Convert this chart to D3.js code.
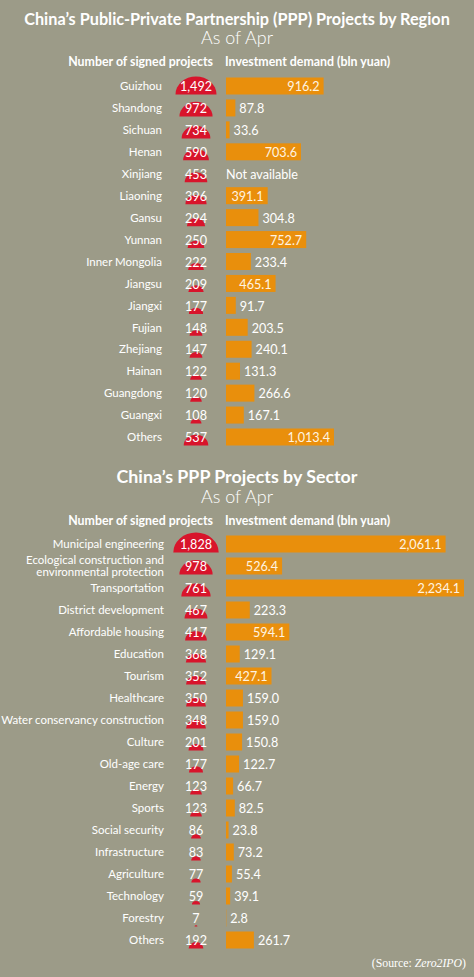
<!DOCTYPE html>
<html><head><meta charset="utf-8">
<script src="https://cdn.jsdelivr.net/npm/d3@7"></script>
<style>
html,body{margin:0;padding:0;background:#9c9b88;}
svg{display:block;}
</style></head>
<body>
<script>
const regions = ["Guizhou","Shandong","Sichuan","Henan","Xinjiang","Liaoning","Gansu","Yunnan","Inner Mongolia","Jiangsu","Jiangxi","Fujian","Zhejiang","Hainan","Guangdong","Guangxi","Others"];
const regionProjects = [1492,972,734,590,453,396,294,250,222,209,177,148,147,122,120,108,537];
const regionInvest = [916.2,87.8,33.6,703.6,null,391.1,304.8,752.7,233.4,465.1,91.7,203.5,240.1,131.3,266.6,167.1,1013.4];

const sectors = ["Municipal engineering","Ecological construction and\nenvironmental protection","Transportation","District development","Affordable housing","Education","Tourism","Healthcare","Water conservancy construction","Culture","Old-age care","Energy","Sports","Social security","Infrastructure","Agriculture","Technology","Forestry","Others"];
const sectorProjects = [1828,978,761,467,417,368,352,350,348,201,177,123,123,86,83,77,59,7,192];
const sectorInvest = [2061.1,526.4,2234.1,223.3,594.1,129.1,427.1,159.0,159.0,150.8,122.7,66.7,82.5,23.8,73.2,55.4,39.1,2.8,261.7];

const titles = ["China\u2019s Public-Private Partnership (PPP) Projects by Region","China\u2019s PPP Projects by Sector"];
const subtitle = "As of Apr";
const headLeft = "Number of signed projects";
const headRight = "Investment demand (bln yuan)";
const notAvail = "Not available";

const W = 474, H = 977;
const BG = "#9c9b88", ORANGE = "#e98f0c", RED = "#d8142b";
const SANS = "Lato, 'Open Sans', sans-serif";
const SERIF = "'Liberation Serif', 'DejaVu Serif', serif";
const svg = d3.select("body").append("svg").attr("width", W).attr("height", H)
  .style("font-family", SANS);
svg.append("rect").attr("width", W).attr("height", H).attr("fill", BG);

// font size that makes a sample string reach a target width
function fit(sample, target, weight, family) {
  const t = svg.append("text").attr("font-size", 20).attr("font-weight", weight || 400)
    .style("font-family", family || SANS).text(sample);
  const w = t.node().getComputedTextLength();
  t.remove();
  return 20 * target / w;
}
const fsTitle1 = fit(titles[0], 426, 700);
const fsTitle2 = fit(titles[1], 241, 700);
const fsSub = fit(subtitle, 72, 300);
const fsHead = fit(headLeft, 145, 700);
const fsLabel = fit("Water conservancy construction", 163, 400);
const fsNum = fit(notAvail, 72, 400);
const fsSrc = fit("(Source: Zero2IPO)", 94, 400, SERIF);

const maxInv = d3.max(regionInvest.concat(sectorInvest));
const x = d3.scaleLinear().domain([0, maxInv]).range([226, 464]);
const maxProj = d3.max(regionProjects.concat(sectorProjects));
const r = d3.scaleSqrt().domain([0, maxProj]).range([0, 22.7]);
const fmt = d3.format(",.1f");
const fmtInt = d3.format(",");

function panel(cfg) {
  const g = svg.append("g");
  g.append("text").attr("x", 237).attr("y", cfg.titleY).attr("text-anchor","middle")
    .attr("fill","#fff").attr("font-weight",700).attr("font-size",cfg.fsTitle).text(cfg.title);
  g.append("text").attr("x", 237).attr("y", cfg.subY).attr("text-anchor","middle")
    .attr("fill","#fff").attr("font-weight",300).attr("font-size",fsSub).text(subtitle);
  g.append("text").attr("x", 213).attr("y", cfg.headY).attr("text-anchor","end")
    .attr("fill","#fff").attr("font-weight",700).attr("font-size",fsHead).text(headLeft);
  g.append("text").attr("x", 225).attr("y", cfg.headY).attr("text-anchor","start")
    .attr("fill","#fff").attr("font-weight",700).attr("font-size",fsHead).text(headRight);

  const y = d3.scalePoint().domain(cfg.cats).range(cfg.yRange);
  const data = cfg.cats.map((c,i)=>({c, p: cfg.proj[i], v: cfg.inv[i]}));
  const bh = 17;
  const row = g.selectAll("g.row").data(data).join("g").attr("class","row")
    .attr("transform", d=>`translate(0,${y(d.c)})`);

  row.each(function(d){
    const lines = d.c.split("\n");
    const t = d3.select(this).append("text").attr("text-anchor","end").attr("fill","#fff")
      .attr("font-size",fsLabel);
    lines.forEach((ln,k)=>{
      t.append("tspan").attr("x",cfg.labelX)
        .attr("y", (k - (lines.length-1)/2)*12.5 + 4.2).text(ln);
    });
  });

  row.append("path").attr("fill", RED).attr("d", d=>{
    const rx = r(d.p), ry = rx*0.88, cx = 196, by = bh/2;
    return `M${cx-rx},${by} A${rx},${ry} 0 0 1 ${cx+rx},${by} Z`;
  });
  row.append("text").attr("x",196).attr("y",5.2).attr("text-anchor","middle").attr("fill","#fff")
    .attr("font-size",fsNum).text(d=>fmtInt(d.p));

  row.filter(d=>d.v!=null).append("rect").attr("x", x(0)).attr("y",-bh/2)
    .attr("width", d=>x(d.v)-x(0)).attr("height", bh).attr("fill", ORANGE);
  row.append("text")
    .attr("x", d=> d.v==null ? x(0) : (d.v>350 ? x(d.v)-4 : x(d.v)+4))
    .attr("y",5.2)
    .attr("text-anchor", d=> d.v!=null && d.v>350 ? "end":"start")
    .attr("fill", d=> d.v!=null && d.v>350 ? "#fff4e2":"#fff")
    .attr("font-size",fsNum)
    .text(d=> d.v==null ? notAvail : fmt(d.v));
}

panel({title:titles[0], fsTitle:fsTitle1, titleY:25, subY:44, headY:66, cats:regions, proj:regionProjects, inv:regionInvest, yRange:[86,437], labelX:162});
panel({title:titles[1], fsTitle:fsTitle2, titleY:483, subY:503, headY:525, cats:sectors, proj:sectorProjects, inv:sectorInvest, yRange:[544,940], labelX:164});

const src = svg.append("text").attr("x",466).attr("y",967).attr("text-anchor","end").attr("fill","#fff")
  .style("font-family", SERIF).attr("font-size",fsSrc);
src.append("tspan").text("(Source: ");
src.append("tspan").attr("font-style","italic").text("Zero2IPO");
src.append("tspan").text(")");
</script>
</body></html>
